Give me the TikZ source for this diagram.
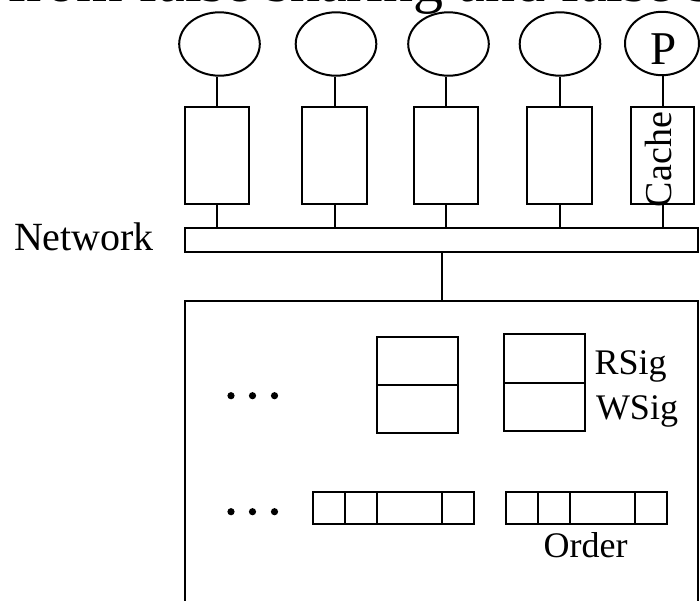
\documentclass[tikz,border=0pt]{standalone}
\usepackage{fontspec}
\setmainfont{Liberation Serif}
\usetikzlibrary{shapes.geometric}
\begin{document}
\begin{tikzpicture}[x=1pt, y=-1pt, line width=2pt,
  proc/.style={draw, ellipse, inner sep=0pt, minimum width=80.6pt, minimum height=63.4pt},
  cachebox/.style={draw, rectangle, inner sep=0pt, minimum width=64.5pt, minimum height=97pt},
  sigbox/.style={draw, rectangle, inner sep=0pt, minimum width=80.5pt, minimum height=48.2pt},
  cell/.style={draw, rectangle, inner sep=0pt, minimum height=32.3pt},
  lbl/.style={inner sep=0pt, font=\fontsize{36}{40}\selectfont},
  dotmark/.style={circle, fill, inner sep=0pt, minimum size=7.2pt}]
\useasboundingbox (0,0) rectangle (700,600);
\clip (0,0) rectangle (700,600);

% heading line running off the top edge
\node[anchor=base west, inner sep=0pt, font=\fontsize{60}{64}\selectfont] (title) at (6,1) {from false sharing and false sharing};

% processors
\node[proc] (p1) at (219.5,44) {};
\node[proc] (p2) at (336,44) {};
\node[proc] (p3) at (448.5,44) {};
\node[proc] (p4) at (560,44) {};
\node[proc, minimum width=74pt] (p5) at (662,43.5) {};
\node[anchor=base, inner sep=0pt, font=\fontsize{47}{50}\selectfont] (plbl) at (663.5,64) {P};

% caches
\node[cachebox] (c1) at (217,155.5) {};
\node[cachebox] (c2) at (334.5,155.5) {};
\node[cachebox] (c3) at (446.2,155.5) {};
\node[cachebox] (c4) at (559.7,155.5) {};
\node[cachebox, minimum width=63pt] (c5) at (662.5,155.5) {};
\node[rotate=90, anchor=base west, inner sep=0pt, font=\fontsize{38}{40}\selectfont] (cachelbl) at (671,208) {Cache};

% network bus
\node[draw, rectangle, inner sep=0pt, minimum width=513pt, minimum height=24pt] (bus) at (441.5,240) {};
\node[anchor=base west, inner sep=0pt, font=\fontsize{40}{44}\selectfont] (netlbl) at (13,250) {Network};

% memory module
\node[draw, rectangle, inner sep=0pt, minimum width=513pt, minimum height=330pt, anchor=north] (mem) at (441.5,300) {};

% links
\foreach \i in {1,...,5} {
  \draw (c\i.north) -- (c\i.north |- p\i.south);
  \draw (c\i.south) -- (c\i.south |- bus.north);
}
\draw (bus.south) -- (bus.south |- mem.north);

% signature pairs
\node[sigbox] (s1a) at (417.65,361.3) {};
\node[sigbox] (s1b) at (417.65,409.3) {};
\node[sigbox] (s2a) at (544.45,358.45) {};
\node[sigbox] (s2b) at (544.45,406.8) {};
\node[lbl, anchor=base west] (rsig) at (593.5,374.3) {RSig};
\node[lbl, anchor=base west] (wsig) at (595,419.3) {WSig};

% order vectors
\node[cell, minimum width=32.2pt] (oa1) at (329.3,507.85) {};
\node[cell, minimum width=31.9pt] (oa2) at (361.35,507.85) {};
\node[cell, minimum width=64.5pt] (oa3) at (409.55,507.85) {};
\node[cell, minimum width=32.6pt] (oa4) at (458.1,507.85) {};
\node[cell, minimum width=32.2pt] (ob1) at (522.1,507.85) {};
\node[cell, minimum width=32.2pt] (ob2) at (554.3,507.85) {};
\node[cell, minimum width=64.5pt] (ob3) at (602.65,507.85) {};
\node[cell, minimum width=32.1pt] (ob4) at (650.95,507.85) {};
\node[lbl, anchor=base west] (order) at (542.6,557.7) {Order};

% ellipses
\node[dotmark] (d1) at (231,395.7) {};
\node[dotmark] (d2) at (252.5,395.7) {};
\node[dotmark] (d3) at (274.5,395.7) {};
\node[dotmark] (e1) at (231,511.7) {};
\node[dotmark] (e2) at (252.5,511.7) {};
\node[dotmark] (e3) at (274.5,511.7) {};
\end{tikzpicture}
\end{document}
